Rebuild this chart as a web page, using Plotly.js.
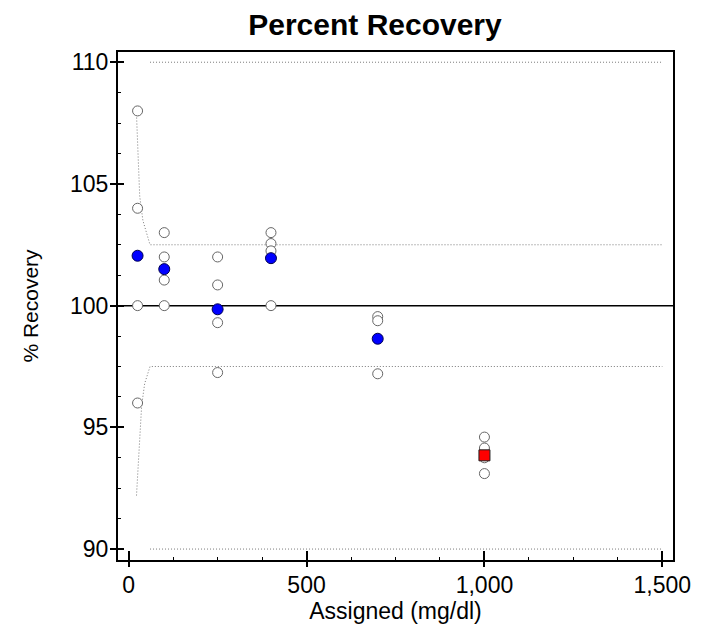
<!DOCTYPE html>
<html>
<head>
<meta charset="utf-8">
<script src="https://cdn.plot.ly/plotly-3.0.1.min.js"></script>
<style>
  html, body { margin: 0; padding: 0; background: #ffffff; }
  #chart { width: 711px; height: 625px; }
</style>
</head>
<body>
<div id="chart"></div>
<script>
// ---- data ----
const openX = [25, 25, 25, 25, 100, 100, 100, 100, 250, 250, 250, 250, 400, 400, 400, 400, 700, 700, 700, 1000, 1000, 1000, 1000];
const openY = [108, 104, 100, 96, 103, 102, 101.05, 100, 102, 100.85, 99.3, 97.25, 103, 102.55, 102.25, 100, 99.55, 99.38, 97.2, 94.6, 94.15, 93.75, 93.1];

const meanX = [25, 100, 250, 400, 700];
const meanY = [102.05, 101.5, 99.85, 101.95, 98.64];

const flagX = [1000];
const flagY = [93.85];

const refX = [-30, 1530];
const refY = [100, 100];

const upperLimitX = [22, 26, 31, 40, 60, 1500];
const upperLimitY = [107.85, 106.2, 104.5, 103.5, 102.5, 102.5];
const lowerLimitX = [22, 29, 36.5, 45, 60, 1500];
const lowerLimitY = [92.2, 94.0, 95.9, 96.8, 97.5, 97.5];

const outerX = [60, 1500];
const outerUpperY = [110, 110];
const outerLowerY = [90, 90];

const xTicks = [0, 500, 1000, 1500];
const yTicks = [90, 95, 100, 105, 110];

const xRange = [-30, 1530];
const yRange = [89.55, 110.42];

// ---- styling ----
const FONT = 'Liberation Sans, Arial, Helvetica, sans-serif';
const dotted = { color: '#7a7a7a', width: 1, dash: '1px,2px' };

const traces = [
  { x: outerX, y: outerUpperY, mode: 'lines', line: dotted, hoverinfo: 'skip' },
  { x: outerX, y: outerLowerY, mode: 'lines', line: dotted, hoverinfo: 'skip' },
  { x: upperLimitX, y: upperLimitY, mode: 'lines', line: dotted, hoverinfo: 'skip' },
  { x: lowerLimitX, y: lowerLimitY, mode: 'lines', line: dotted, hoverinfo: 'skip' },
  { x: refX, y: refY, mode: 'lines', line: { color: '#000000', width: 1.5 }, hoverinfo: 'skip' },
  { x: openX, y: openY, mode: 'markers',
    marker: { symbol: 'circle', size: 10, color: '#ffffff', line: { color: '#666666', width: 1 } } },
  { x: meanX, y: meanY, mode: 'markers',
    marker: { symbol: 'circle', size: 11, color: '#0000ff', line: { color: '#000050', width: 1 } } },
  { x: flagX, y: flagY, mode: 'markers',
    marker: { symbol: 'square', size: 11, color: '#ff0000', line: { color: '#202020', width: 1 } } },
  // carrier for the inner halves of the major ticks
  { x: [], y: [], xaxis: 'x2', yaxis: 'y2', mode: 'markers', hoverinfo: 'skip' }
].map(t => Object.assign({ type: 'scatter', showlegend: false }, t));

const layout = {
  width: 711,
  height: 625,
  margin: { l: 118, r: 38, t: 52, b: 65, pad: 0 },
  paper_bgcolor: '#ffffff',
  plot_bgcolor: '#ffffff',
  font: { family: FONT, color: '#000000', size: 22 },
  showlegend: false,
  title: {
    text: '<b>Percent Recovery</b>',
    font: { family: FONT, size: 30, color: '#000000' },
    x: 375 / 711, xref: 'container', xanchor: 'center',
    y: 1 - 24 / 625, yref: 'container', yanchor: 'middle'
  },
  xaxis: {
    range: xRange,
    tickvals: xTicks,
    tickformat: ',d',
    ticks: 'outside', ticklen: 5, tickwidth: 2, tickcolor: '#000000',
    tickfont: { family: FONT, size: 23, color: '#000000' },
    ticklabelstandoff: -2,
    showline: true, linewidth: 2, linecolor: '#000000', mirror: true,
    showgrid: false, zeroline: false,
    minor: { dtick: 125, ticks: 'inside', ticklen: 3, tickwidth: 1, tickcolor: '#000000', showgrid: false },
    title: { text: 'Assigned (mg/dl)', font: { family: FONT, size: 23, color: '#000000' }, standoff: 2 }
  },
  yaxis: {
    range: yRange,
    tickvals: yTicks,
    ticks: 'outside', ticklen: 6, tickwidth: 2, tickcolor: '#000000',
    tickfont: { family: FONT, size: 23, color: '#000000' },
    ticklabelstandoff: -3,
    showline: true, linewidth: 2, linecolor: '#000000', mirror: true,
    showgrid: false, zeroline: false,
    minor: { dtick: 1.25, ticks: 'inside', ticklen: 3, tickwidth: 1, tickcolor: '#000000', showgrid: false },
    title: { text: '% Recovery', font: { family: FONT, size: 21, color: '#000000' }, standoff: 26 }
  },
  xaxis2: {
    overlaying: 'x', anchor: 'y2', side: 'bottom', range: xRange,
    tickvals: xTicks, ticks: 'inside', ticklen: 9, tickwidth: 2, tickcolor: '#000000',
    showticklabels: false, showline: false, showgrid: false, zeroline: false
  },
  yaxis2: {
    overlaying: 'y', anchor: 'x2', side: 'left', range: yRange,
    tickvals: yTicks, ticks: 'inside', ticklen: 6, tickwidth: 2, tickcolor: '#000000',
    showticklabels: false, showline: false, showgrid: false, zeroline: false
  }
};

Plotly.newPlot('chart', traces, layout, { displayModeBar: false, staticPlot: true });
</script>
</body>
</html>
